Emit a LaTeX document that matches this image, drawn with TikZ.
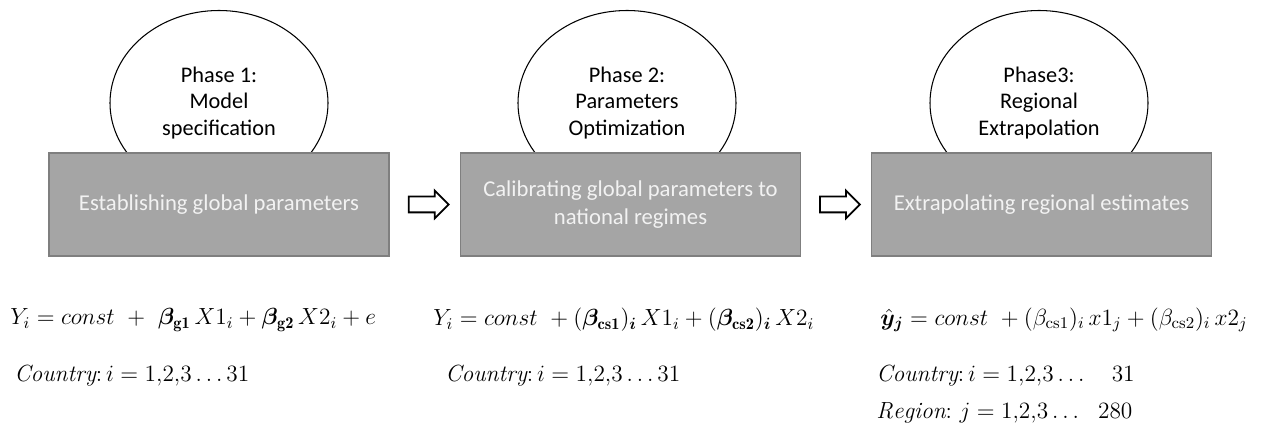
\documentclass[tikz,border=0pt]{standalone}
\usepackage{fix-cm}
\usepackage{amsmath}
\usepackage{bm}
\usepackage{fontspec}
\newfontfamily\calibri{Carlito}
\usetikzlibrary{
	shapes.geometric,
	shapes.arrows,
	calc
}
\definecolor{caixacinza}{HTML}{A5A5A5}
\definecolor{bordacinza}{HTML}{7F7F7F}
\definecolor{textoclaro}{HTML}{F2F2F2}

\begin{document}
\begin{tikzpicture}[
			x=0.2mm, y=-0.2mm,
			font=\calibri\fontsize{12.7}{15.2}\selectfont,
			fase/.style={draw, ellipse, fill=white, line width=0.6pt, minimum width=4.36cm, minimum height=3.7cm, align=center, inner sep=0pt},
			etapa/.style={draw=bordacinza, fill=caixacinza, line width=0.9pt, minimum width=6.8cm, minimum height=2.06cm, align=center, text=textoclaro, font=\calibri\fontsize{12.9}{16}\selectfont},
			seta/.style={draw, single arrow, fill=white, line width=1pt, minimum height=0.8cm, inner xsep=0pt, inner ysep=0.14cm, single arrow head extend=0.12cm},
			eq/.style={anchor=west, inner sep=0pt, font=\fontsize{13.3}{16}\selectfont}
		]
		\fill[white] (0,0) rectangle (1277,428);
		\useasboundingbox (0,0) rectangle (1277,428);

		\node[fase] (f1) at (219,103) {Phase 1:\\Model\\specification};
		\node[fase] (f2) at (627,103) {Phase 2:\\Parameters\\Optimization};
		\node[fase] (f3) at (1039,103) {Phase3:\\Regional\\Extrapolation};

		\node[etapa] (global) at (219,204.5) {Establishing global parameters};
		\node[etapa] (calib) at (630.5,204.5) {Calibrating global parameters to\\national regimes};
		\node[etapa] (extrap) at (1041.5,204.5) {Extrapolating regional estimates};

		\node[seta] (s1) at ($(global.east)!0.5!(calib.west)$) {};
		\node[seta] (s2) at ($(calib.east)!0.5!(extrap.west)$) {};

		\node[eq] (eq1) at (10,320) {$Y_i = const\ +\ \bm{\beta}_{\mathbf{g1}}\,X1_i + \bm{\beta}_{\mathbf{g2}}\,X2_i + e$};
		\node[eq] (pais1) at (14,376) {$\mathit{Country}{:}\,i = 1{,}2{,}3\ldots 31$};

		\node[eq] (eq2) at (433,320) {$Y_i = const\ + (\bm{\beta}_{\mathbf{cs1}})_{\bm{i}}\,X1_i + (\bm{\beta}_{\mathbf{cs2}})_{\bm{i}}\,X2_i$};
		\node[eq] (pais2) at (445,376) {$\mathit{Country}{:}\,i = 1{,}2{,}3\ldots 31$};

		\node[eq] (eq3) at (880,320) {$\hat{\bm{y}}_{\bm{j}} = const\ + (\beta_{\mathrm{cs1}})_i\,x1_j + (\beta_{\mathrm{cs2}})_i\,x2_j$};
		\node[eq] (pais3) at (876,376) {$\mathit{Country}{:}\,i = 1{,}2{,}3\ldots\quad 31$};
		\node[eq] (regiao) at (876,413) {$\mathit{Region}{:}\ j = 1{,}2{,}3\ldots\ \ 280$};
	\end{tikzpicture}
\end{document}
